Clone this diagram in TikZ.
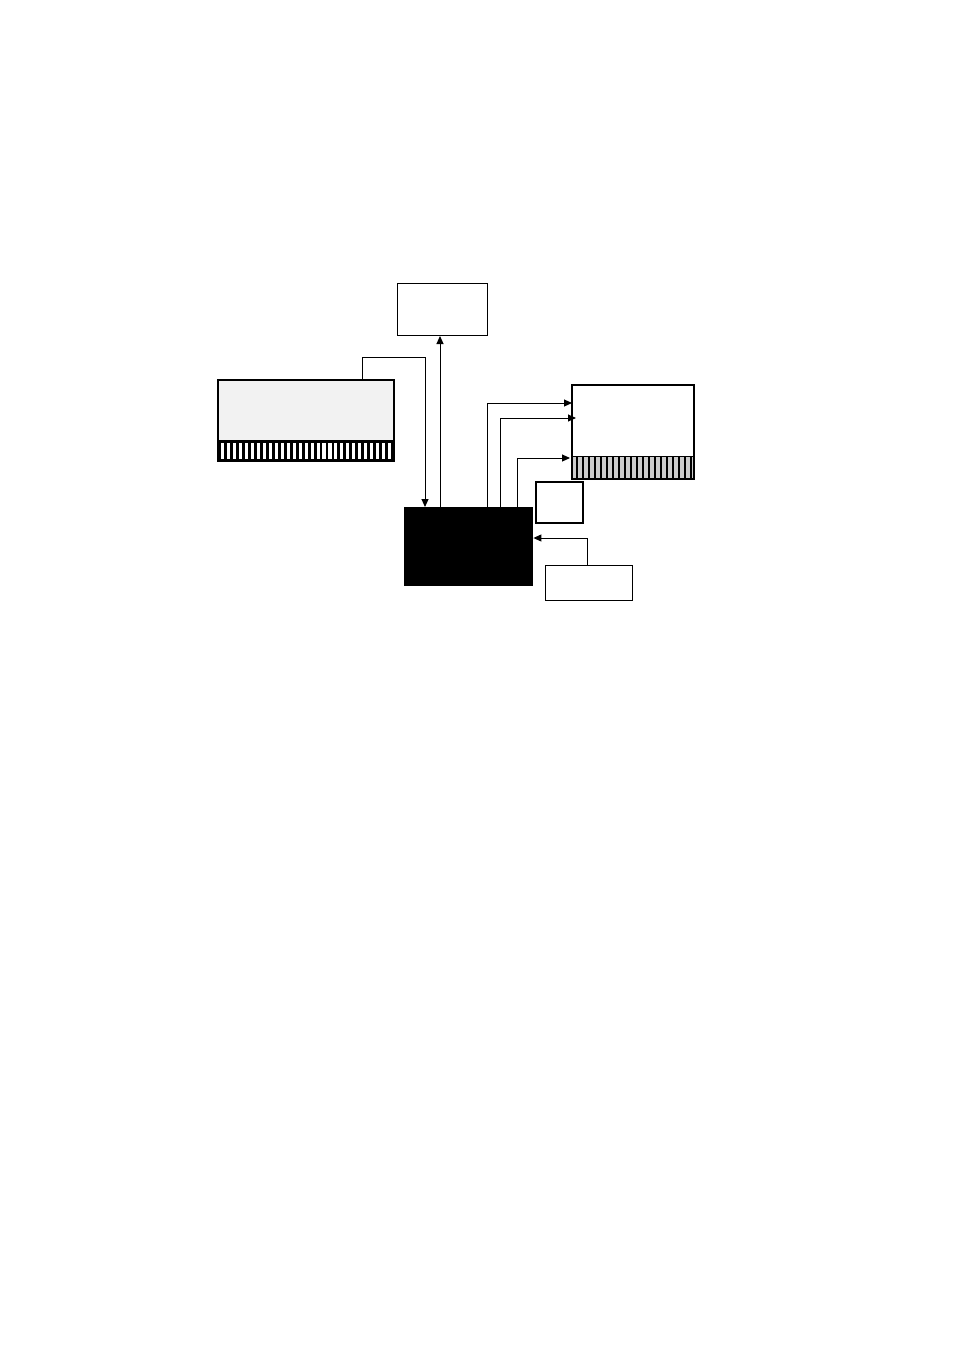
\documentclass[tikz,border=0pt]{standalone}
\usetikzlibrary{arrows.meta}
\begin{document}
\begin{tikzpicture}[x=1pt,y=-1pt,
  thinbox/.style={draw=black,line width=1pt,fill=white},
  conn/.style={line width=1pt,-{Triangle[length=8pt,width=7pt]}}]
\useasboundingbox[fill=white] (0,0) rectangle (954,1351);
% top box
\node[thinbox,minimum width=90pt,minimum height=52pt,inner sep=0pt,anchor=north west] (top) at (397,283) {};
% left box
\node[fill=gray!10,minimum width=176pt,minimum height=60pt,inner sep=0pt,anchor=north west] (left) at (218,380) {};
\fill[black] (218,440) rectangle (394,461);
\foreach \i in {0,...,28} {\fill[white] (221.3+\i*5.95,442.5) rectangle (224.4+\i*5.95,458.5);}
\draw[line width=2pt] (218,380) rectangle (394,461);
% right box
\node[fill=white,minimum width=122pt,minimum height=71pt,inner sep=0pt,anchor=north west] (right) at (572,385) {};
\fill[gray!40] (572,456) rectangle (694,479);
\foreach \i in {0,...,19} {\fill[black] (576+\i*6,457) rectangle (578+\i*6,478);}
\draw[line width=1pt] (572,456) -- (694,456);
\draw[line width=2pt] (572,385) rectangle (694,479);
% small box
\node[draw=black,line width=1.5pt,fill=white,minimum width=47pt,minimum height=41pt,inner sep=0pt,anchor=north west] (small) at (535,481) {};
% black box
\node[fill=black,minimum width=129pt,minimum height=79pt,inner sep=0pt,anchor=north west] (core) at (404,507) {};
% bottom box
\node[thinbox,minimum width=87pt,minimum height=35pt,inner sep=0pt,anchor=north west] (bottom) at (545,565) {};
% connectors
\draw[conn] (left.north west) ++(144,0) |- (425,357) -- (core.north west -| 425,0);
\draw[conn] (core.north west) ++(36,0) -- (top.south -| 440,0);
\draw[conn] (core.north west) ++(83,0) |- (right.west |- 0,403);
\draw[conn] (core.north west) ++(96,0) |- (576,418);
\draw[conn] (core.north west) ++(113,0) |- (570,458);
\draw[conn] (bottom.north west) ++(42,0) |- (core.east |- 0,538);
\end{tikzpicture}
\end{document}
